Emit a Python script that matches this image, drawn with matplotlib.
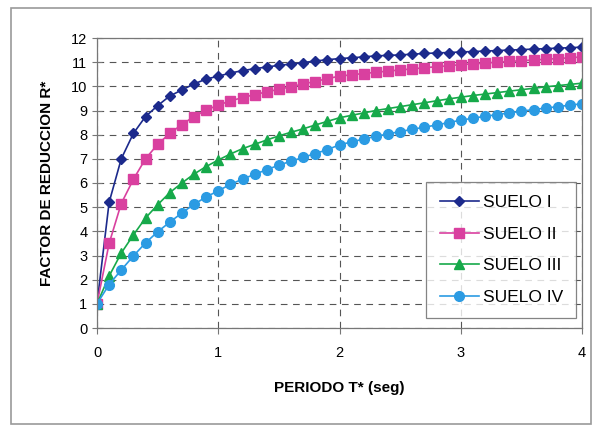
import matplotlib
matplotlib.use("Agg")
import matplotlib.pyplot as plt
from matplotlib.patches import Rectangle
import numpy as np

plt.rcParams['font.family'] = ['Liberation Sans', 'DejaVu Sans']

# periodo T* (seg), paso 0.1
periodo = np.round(np.arange(0, 4.01, 0.1), 1)

suelo_1 = [1.0, 5.2, 7.0, 8.05, 8.75, 9.2, 9.6, 9.85, 10.1, 10.3, 10.42,
           10.55, 10.65, 10.73, 10.8, 10.87, 10.92, 10.98, 11.05, 11.1, 11.15,
           11.18, 11.22, 11.26, 11.28, 11.3, 11.33, 11.36, 11.38, 11.4, 11.42,
           11.44, 11.46, 11.48, 11.5, 11.52, 11.54, 11.56, 11.58, 11.6, 11.62]
suelo_2 = [1.0, 3.5, 5.15, 6.15, 7.0, 7.6, 8.05, 8.42, 8.75, 9.02, 9.22,
           9.4, 9.53, 9.66, 9.77, 9.88, 9.98, 10.1, 10.2, 10.32, 10.42,
           10.48, 10.53, 10.58, 10.63, 10.68, 10.72, 10.77, 10.81, 10.85, 10.9,
           10.93, 10.96, 11.0, 11.03, 11.06, 11.09, 11.12, 11.15, 11.18, 11.22]
suelo_3 = [1.0, 2.15, 3.1, 3.85, 4.55, 5.1, 5.6, 6.0, 6.37, 6.68, 6.95,
           7.2, 7.42, 7.6, 7.78, 7.95, 8.1, 8.24, 8.4, 8.55, 8.7,
           8.8, 8.9, 9.0, 9.08, 9.16, 9.24, 9.32, 9.4, 9.48, 9.55,
           9.62, 9.68, 9.74, 9.8, 9.86, 9.92, 9.98, 10.03, 10.08, 10.13]
suelo_4 = [1.0, 1.8, 2.4, 2.98, 3.52, 3.98, 4.38, 4.76, 5.12, 5.42, 5.68,
           5.94, 6.16, 6.36, 6.55, 6.74, 6.9, 7.06, 7.22, 7.38, 7.58,
           7.7, 7.82, 7.93, 8.03, 8.13, 8.22, 8.31, 8.4, 8.5, 8.6,
           8.68, 8.76, 8.83, 8.9, 8.97, 9.04, 9.1, 9.16, 9.22, 9.28]

etiquetas = ['SUELO I', 'SUELO II', 'SUELO III', 'SUELO IV']

fig = plt.figure(figsize=(5.95, 4.28), dpi=100)
fig.patch.set_facecolor('white')
ax = fig.add_axes([97 / 595, 1 - 328 / 428, 485 / 595, 290 / 428])

# marco exterior gris
fig.patches.append(Rectangle((11 / 595, 1 - 424 / 428), 580 / 595, 416 / 428,
                             transform=fig.transFigure, fill=False,
                             edgecolor='#9a9a9a', linewidth=1.2))

ax.plot(periodo, suelo_1, color='#1c2a8c', marker='D', markersize=5.5,
        linewidth=1.2, label=etiquetas[0])
ax.plot(periodo, suelo_2, color='#d9409f', marker='s', markersize=6.5,
        linewidth=1.2, label=etiquetas[1])
ax.plot(periodo, suelo_3, color='#16a94a', marker='^', markersize=7,
        linewidth=1.2, label=etiquetas[2])
ax.plot(periodo, suelo_4, color='#2b9be3', marker='o', markersize=7,
        linewidth=1.2, label=etiquetas[3])

ax.set_xlim(0, 4)
ax.set_ylim(0, 12)
ax.set_xticks([0, 1, 2, 3, 4])
ax.set_yticks(range(0, 13))
ax.tick_params(axis='both', labelsize=10.5, color='#777777', length=4)
ax.tick_params(axis='y', direction='inout', length=7)
ax.tick_params(axis='x', direction='out', pad=9)
ax.grid(True, linestyle=(0, (6, 5)), color='#555555', linewidth=0.8)
for s in ax.spines.values():
    s.set_color('#777777')
    s.set_linewidth(0.9)

ax.set_xlabel('PERIODO T* (seg)', fontsize=11, fontweight='bold', labelpad=15)
ax.set_ylabel('FACTOR DE REDUCCION R*', fontsize=11, fontweight='bold', labelpad=12)

leg = ax.legend(loc='lower right', bbox_to_anchor=(0.988, 0.034), fontsize=12.5,
                frameon=True, fancybox=False, edgecolor='#666666',
                handlelength=2.3, labelspacing=0.95, borderpad=0.75,
                handletextpad=0.2, borderaxespad=0)
leg.get_frame().set_linewidth(0.9)

fig.savefig('out.png', dpi=100)
